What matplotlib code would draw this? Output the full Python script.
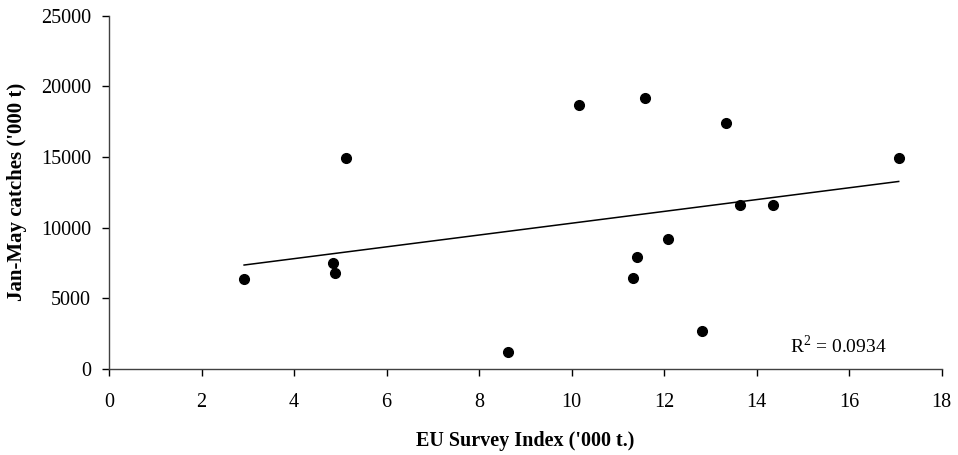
import matplotlib
matplotlib.use('Agg')
import matplotlib.pyplot as plt
import numpy as np

# EU survey index ('000 t.) vs Jan-May catches ('000 t)
survey = [2.92, 4.84, 4.88, 5.12, 8.62, 10.15, 11.33, 11.41, 11.59,
          12.08, 12.81, 13.33, 13.65, 14.35, 17.07]
catches = [6350, 7480, 6800, 14930, 1180, 18700, 6460, 7950, 19180,
           9200, 2690, 17430, 11600, 11600, 14930]
r2_text = 'R$^2$ = 0.0934'

plt.rcParams['font.family'] = ['Liberation Serif', 'DejaVu Serif']
plt.rcParams['mathtext.fontset'] = 'custom'
plt.rcParams['mathtext.rm'] = 'Liberation Serif'

fig = plt.figure(figsize=(9.58, 4.55), dpi=100)
ax = fig.add_axes([0.1138, 0.189, 0.983 - 0.1138, 0.9655 - 0.189])

x = np.array(survey)
y = np.array(catches)
ax.plot(x, y, 'o', color='black', markersize=7, zorder=3)

# linear trend line across the data range
p = np.polyfit(x, y, 1)
xl = np.array([x.min(), x.max()])
ax.plot(xl, np.polyval(p, xl), color='black', lw=1.1)

ax.text(14.72, 1130, r2_text, fontsize=14, ha='left', va='baseline')

ax.set_xlim(0, 18)
ax.set_ylim(0, 25000)
ax.set_xticks(np.arange(0, 19, 2))
ax.set_yticks(np.arange(0, 25001, 5000))
ax.tick_params(direction='out', length=5, width=1, labelsize=14.5)
ax.tick_params(axis='x', pad=12)
ax.tick_params(axis='y', pad=8)
ax.spines['top'].set_visible(False)
ax.spines['right'].set_visible(False)
for s in ['left', 'bottom']:
    ax.spines[s].set_color('#404040')
    ax.spines[s].set_linewidth(1)

ax.set_xlabel("EU Survey Index ('000 t.)", fontsize=14.5, fontweight='bold', labelpad=14)
ax.set_ylabel("Jan-May catches ('000 t)", fontsize=15, fontweight='bold', labelpad=10)

plt.savefig('out.png', dpi=100)
plt.close()
